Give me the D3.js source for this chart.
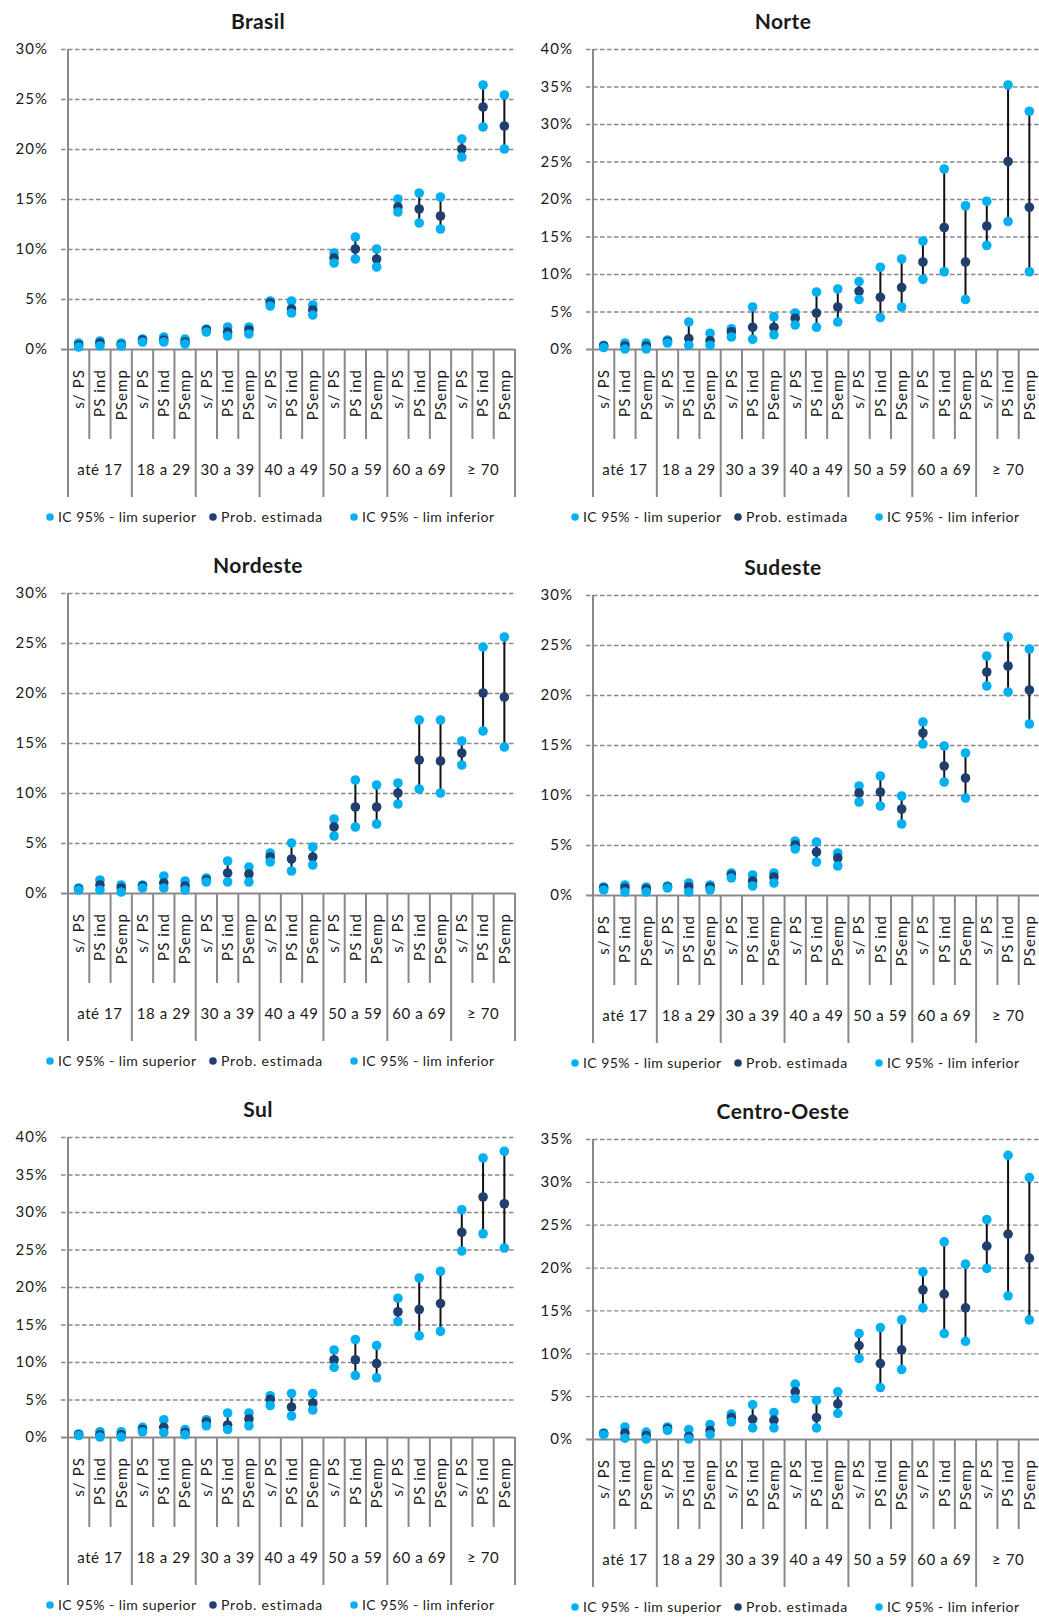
<!DOCTYPE html>
<html>
<head>
<meta charset="utf-8">
<script src="https://cdn.jsdelivr.net/npm/d3@7"></script>
<style>
  html, body { margin: 0; padding: 0; background: #fff; }
  svg { display: block; font-family: Lato, "Noto Sans", sans-serif; }
</style>
</head>
<body>
<svg id="chart" width="1039" height="1618"></svg>
<script>
// Age groups and health-plan coverage types (multi-level category axis)
const ageGroups = ["até 17", "18 a 29", "30 a 39", "40 a 49", "50 a 59", "60 a 69", "≥ 70"];
const coverage = ["s/ PS", "PS ind", "PSemp"];
const legendLabels = ["IC 95% - lim superior", "Prob. estimada", "IC 95% - lim inferior"];

// Values in %: upper CI limit, estimated probability, lower CI limit
const brasilUpper = [0.6, 0.8, 0.6, 1.0, 1.2, 1.0, 2.0, 2.2, 2.2, 4.8, 4.8, 4.4, 9.6, 11.2, 10.0, 15.0, 15.6, 15.2, 21.0, 26.4, 25.4];
const brasilEst   = [0.4, 0.6, 0.4, 0.9, 0.9, 0.7, 1.9, 1.7, 1.9, 4.6, 4.0, 3.9, 9.1, 10.0, 9.0, 14.2, 14.0, 13.3, 20.0, 24.2, 22.3];
const brasilLower = [0.2, 0.3, 0.3, 0.7, 0.7, 0.5, 1.7, 1.3, 1.5, 4.3, 3.6, 3.4, 8.6, 9.0, 8.2, 13.7, 12.6, 12.0, 19.2, 22.2, 20.0];

const norteUpper = [0.5, 0.8, 0.8, 1.2, 3.6, 2.1, 2.7, 5.6, 4.3, 4.8, 7.6, 8.0, 9.0, 10.9, 12.0, 14.4, 24.0, 19.1, 19.7, 35.2, 31.7];
const norteEst   = [0.4, 0.4, 0.4, 1.0, 1.4, 1.1, 2.3, 2.9, 2.9, 4.1, 4.8, 5.6, 7.7, 6.9, 8.2, 11.6, 16.2, 11.6, 16.4, 25.0, 18.9];
const norteLower = [0.2, 0.0, 0.0, 0.8, 0.5, 0.5, 1.6, 1.3, 1.9, 3.2, 2.9, 3.6, 6.6, 4.2, 5.6, 9.3, 10.3, 6.6, 13.8, 17.0, 10.3];

const nordesteUpper = [0.5, 1.3, 0.8, 0.8, 1.7, 1.2, 1.5, 3.2, 2.6, 4.0, 5.0, 4.6, 7.4, 11.3, 10.8, 11.0, 17.3, 17.3, 15.2, 24.6, 25.6];
const nordesteEst   = [0.4, 0.8, 0.5, 0.7, 1.0, 0.7, 1.3, 2.0, 1.9, 3.6, 3.4, 3.6, 6.6, 8.6, 8.6, 10.0, 13.3, 13.2, 14.0, 20.0, 19.6];
const nordesteLower = [0.3, 0.3, 0.1, 0.5, 0.5, 0.3, 1.1, 1.1, 1.1, 3.1, 2.2, 2.8, 5.7, 6.6, 6.9, 8.9, 10.4, 10.0, 12.8, 16.2, 14.6];

const sudesteUpper = [0.8, 1.0, 0.8, 0.9, 1.2, 1.0, 2.2, 2.0, 2.2, 5.4, 5.3, 4.2, 10.9, 11.9, 9.9, 17.3, 14.9, 14.2, 23.9, 25.8, 24.6];
const sudesteEst   = [0.7, 0.7, 0.6, 0.8, 0.8, 0.8, 2.0, 1.4, 1.8, 5.0, 4.3, 3.7, 10.2, 10.3, 8.6, 16.2, 12.9, 11.7, 22.3, 22.9, 20.5];
const sudesteLower = [0.5, 0.3, 0.3, 0.7, 0.3, 0.5, 1.7, 0.9, 1.2, 4.6, 3.3, 2.9, 9.3, 8.9, 7.1, 15.1, 11.3, 9.7, 20.9, 20.3, 17.1];

const sulUpper = [0.4, 0.7, 0.7, 1.3, 2.3, 1.0, 2.3, 3.2, 3.2, 5.5, 5.8, 5.8, 11.6, 13.0, 12.2, 18.5, 21.2, 22.1, 30.3, 37.2, 38.1];
const sulEst   = [0.3, 0.3, 0.3, 1.0, 1.3, 0.6, 2.0, 1.6, 2.4, 5.0, 4.0, 4.5, 10.3, 10.3, 9.8, 16.7, 17.0, 17.8, 27.3, 32.0, 31.1];
const sulLower = [0.2, 0.0, 0.0, 0.7, 0.6, 0.3, 1.5, 1.0, 1.5, 4.2, 2.8, 3.6, 9.3, 8.2, 7.9, 15.4, 13.5, 14.1, 24.8, 27.1, 25.2];

const centroOesteUpper = [0.7, 1.4, 0.8, 1.4, 1.1, 1.7, 2.9, 4.0, 3.1, 6.4, 4.5, 5.5, 12.3, 13.0, 13.9, 19.5, 23.0, 20.4, 25.6, 33.1, 30.5];
const centroOesteEst   = [0.6, 0.7, 0.4, 1.2, 0.3, 1.0, 2.5, 2.3, 2.2, 5.5, 2.5, 4.1, 10.9, 8.8, 10.4, 17.4, 16.9, 15.3, 22.5, 23.9, 21.1];
const centroOesteLower = [0.5, 0.1, 0.0, 1.0, 0.0, 0.5, 2.0, 1.3, 1.3, 4.7, 1.3, 3.0, 9.4, 6.0, 8.1, 15.3, 12.3, 11.4, 19.9, 16.7, 13.9];

const categories = ageGroups.flatMap(g => coverage.map(c => ({ group: g, label: c })));

// Panel grid: two columns, three rows
const panels = [
  { title: "Brasil",       upper: brasilUpper,      est: brasilEst,      lower: brasilLower,      yMax: 30, left: 0,   top: 49 },
  { title: "Norte",        upper: norteUpper,       est: norteEst,       lower: norteLower,       yMax: 40, left: 525, top: 49 },
  { title: "Nordeste",     upper: nordesteUpper,    est: nordesteEst,    lower: nordesteLower,    yMax: 30, left: 0,   top: 593 },
  { title: "Sudeste",      upper: sudesteUpper,     est: sudesteEst,     lower: sudesteLower,     yMax: 30, left: 525, top: 595 },
  { title: "Sul",          upper: sulUpper,         est: sulEst,         lower: sulLower,         yMax: 40, left: 0,   top: 1137 },
  { title: "Centro-Oeste", upper: centroOesteUpper, est: centroOesteEst, lower: centroOesteLower, yMax: 35, left: 525, top: 1139 }
];

const CYAN = "#00B0F0";
const NAVY = "#1F3F6E";
const AXIS = "#898989";
const TEXT = "#1a1a1a";
const FONT = "Lato, 'Noto Sans', sans-serif";

const plotX = 68;       // y-axis position within a panel
const plotW = 447;
const plotH = 300;
const markerR = 4.8;
const legendMarkerX = [50, 213, 354];

const svg = d3.select("#chart");

panels.forEach(p => {
  const g = svg.append("g").attr("transform", `translate(${p.left},0)`);
  const base = p.top + plotH;

  const x = d3.scaleBand().domain(d3.range(categories.length)).range([plotX, plotX + plotW]);
  const y = d3.scaleLinear().domain([0, p.yMax]).range([base, p.top]);
  const tickVals = d3.range(0, p.yMax + 0.001, 5);

  // Title
  g.append("text")
    .attr("x", 258).attr("y", p.top - 27).attr("dy", "0.35em")
    .attr("text-anchor", "middle")
    .attr("font-size", 21).attr("font-weight", 700).attr("fill", TEXT)
    .attr("letter-spacing", 0.4)
    .text(p.title);

  // Value axis with dashed gridlines
  const yAxis = g.append("g")
    .attr("transform", `translate(${plotX},0)`)
    .call(d3.axisLeft(y).tickValues(tickVals).tickSize(-plotW).tickPadding(20)
      .tickFormat(d => d + "%"));
  yAxis.select(".domain").remove();
  yAxis.selectAll(".tick line")
    .attr("x1", -7).attr("x2", plotW)
    .attr("stroke", AXIS)
    .attr("stroke-dasharray", d => d === 0 ? null : "4.5,2.5")
    .attr("stroke-width", d => d === 0 ? 2 : 1.3);
  yAxis.selectAll(".tick text")
    .attr("font-family", FONT)
    .attr("font-size", 15).attr("letter-spacing", 1).attr("fill", TEXT);

  // Vertical axis line, running down through the category label area
  g.append("line")
    .attr("x1", plotX).attr("x2", plotX)
    .attr("y1", p.top).attr("y2", base + 148)
    .attr("stroke", AXIS).attr("stroke-width", 2);

  // Category axis: subcategory labels, rotated
  const xAxis = g.append("g")
    .attr("transform", `translate(0,${base})`)
    .call(d3.axisBottom(x).tickSize(0).tickPadding(0).tickFormat(i => categories[i].label));
  xAxis.select(".domain").remove();
  xAxis.selectAll(".tick text")
    .attr("font-family", FONT)
    .attr("font-size", 15).attr("letter-spacing", 1.1).attr("fill", TEXT)
    .attr("text-anchor", "end")
    .attr("transform", "translate(0,20) rotate(-90)")
    .attr("x", 0).attr("y", 0).attr("dy", "0.36em");

  // Category boundaries: short between subcategories, long between age groups
  const bounds = d3.range(1, categories.length + 1);
  g.selectAll(".bound").data(bounds).join("line")
    .attr("x1", i => plotX + x.step() * i).attr("x2", i => plotX + x.step() * i)
    .attr("y1", base).attr("y2", i => base + (i % 3 === 0 ? 148 : 90))
    .attr("stroke", AXIS).attr("stroke-width", 2);

  // Age group labels
  g.selectAll(".grp").data(ageGroups).join("text")
    .attr("x", (d, k) => x(k * 3) + x.step() * 1.5)
    .attr("y", base + 121).attr("dy", "0.35em")
    .attr("text-anchor", "middle")
    .attr("font-size", 15).attr("letter-spacing", 0.6).attr("fill", TEXT)
    .text(d => d);

  const cx = i => x(i) + x.bandwidth() / 2;

  // High-low lines between CI limits
  g.selectAll(".hl").data(categories).join("line")
    .attr("x1", (d, i) => cx(i)).attr("x2", (d, i) => cx(i))
    .attr("y1", (d, i) => y(p.lower[i])).attr("y2", (d, i) => y(p.upper[i]))
    .attr("stroke", "#111").attr("stroke-width", 2);

  // Markers: upper limit, estimate, lower limit
  [[p.upper, CYAN], [p.est, NAVY], [p.lower, CYAN]].forEach(([vals, col]) => {
    g.append("g").selectAll("circle").data(vals).join("circle")
      .attr("cx", (d, i) => cx(i)).attr("cy", d => y(d))
      .attr("r", markerR).attr("fill", col);
  });

  // Legend
  const leg = g.append("g").attr("transform", `translate(0,${base + 168})`);
  legendLabels.forEach((lab, k) => {
    const lx = legendMarkerX[k];
    leg.append("circle").attr("cx", lx).attr("cy", 0).attr("r", 3.8)
      .attr("fill", k === 1 ? NAVY : CYAN);
    leg.append("text").attr("x", lx + 8).attr("y", 0).attr("dy", "0.35em")
      .attr("font-size", 14).attr("letter-spacing", k === 1 ? 0.8 : 0.45)
      .attr("fill", TEXT).text(lab);
  });
});
</script>
</body>
</html>
